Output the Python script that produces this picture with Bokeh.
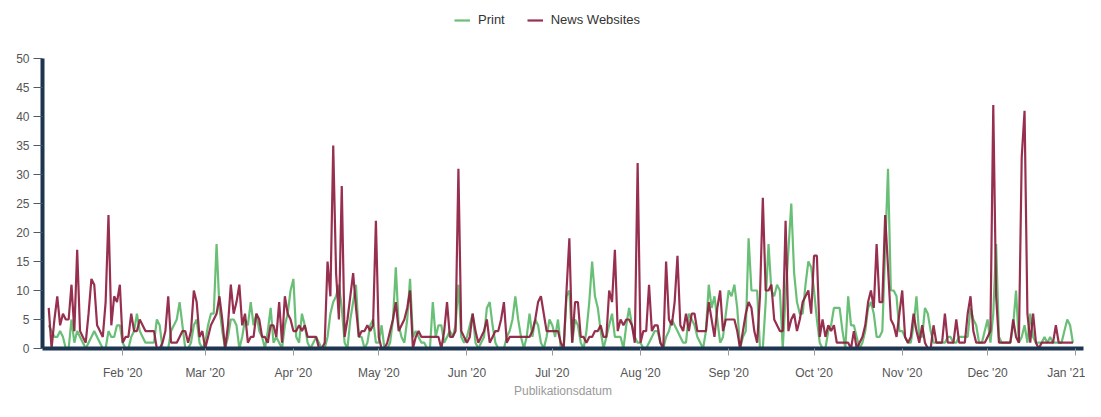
import pandas as pd
from bokeh.plotting import figure
from bokeh.models import Range1d, FixedTicker, DatetimeTickFormatter, Legend, LegendItem, ColumnDataSource
from bokeh.embed import file_html
from bokeh.resources import INLINE

start_date = "2020-01-06"

news_websites = [
    7, 0, 5, 9, 4, 6, 5, 5, 11, 3,
    17, 3, 2, 1, 6, 12, 11, 4, 3, 2,
    8, 23, 4, 9, 8, 11, 1, 2, 2, 6,
    3, 3, 5, 4, 3, 3,
    3, 3, 0, 0,
    1, 3, 9, 1, 1, 1, 2, 3, 3, 1,
    3, 10, 8, 2, 3, 0, 2, 4, 5, 6,
    9, 5, 0, 4, 11, 6, 8, 11, 4, 6,
    1, 2, 2,
    6, 5, 2, 2, 1, 4, 4,
    2, 8, 1, 9, 6, 5, 3, 3, 4, 3,
    4, 2, 2, 2, 2, 0, 0, 1, 15, 9,
    35, 13, 5, 28, 2, 5, 9, 13, 7, 2,
    3, 3, 4, 3, 4, 22, 2, 0, 0, 1,
    3, 5, 8, 3, 4, 5, 7, 10, 0, 2,
    3, 2, 2, 2, 2, 2, 2, 2, 0, 3,
    8, 2, 2, 3, 31, 3, 2,
    1, 2, 6, 3, 1, 2, 3, 5, 1, 2,
    3, 3, 5, 8, 1, 2, 2, 2, 2, 2,
    2, 2, 2, 3, 5, 8, 9, 6, 3, 3,
    3, 3, 3, 1, 0,
    10, 19, 1, 8, 8, 2, 2, 1, 2, 2,
    3, 3, 4, 2, 2, 10, 8, 17, 3, 5,
    4, 5, 5, 4, 1, 32, 1, 3, 3, 11,
    3, 4, 4, 1, 0, 15, 5,
    4, 8, 16, 4, 3, 6, 3, 6, 6, 3,
    3, 3, 3, 8, 5, 2, 7, 10, 3, 5,
    5, 5, 5, 3, 0, 3, 6, 8, 7, 3,
    1, 9, 26, 10, 10, 11, 5,
    4, 3, 3, 22, 3, 5, 6, 3, 5, 8,
    9, 10, 6, 16, 16, 2, 5, 2, 4, 3,
    4, 1, 1, 1, 1, 1, 0, 3, 0, 1,
    2, 4, 8, 10, 7, 18, 8,
    8, 23, 14, 5, 4, 2, 6, 10, 2, 1,
    2, 6, 3, 1, 4, 1, 0, 0, 4, 1,
    1, 1, 6, 1, 1, 1, 5, 1, 1, 1,
    6, 9, 3, 1, 1, 1, 1,
    2, 3, 42, 9, 1, 1, 1, 1, 1, 5,
    2, 1, 33, 41, 6, 1, 6, 1, 0, 1,
    1, 1, 1, 1, 4, 1, 1, 1, 1, 1, 1,
]

print_media = [
    4, 3, 2, 2, 3, 2, 0, 0, 5, 1,
    3, 2, 1, 0, 1, 2, 3, 2, 1, 0,
    0, 3, 2, 2, 4, 4, 1, 0, 0, 2,
    3, 6, 3, 2, 1, 1,
    1, 1, 5, 4,
    0, 0, 0, 3, 4, 5, 8, 4, 0, 0,
    1, 4, 5, 1, 0, 1, 4, 6, 6, 18,
    7, 3, 0, 2, 5, 5, 4, 0, 2, 5,
    4, 8, 4,
    6, 3, 2, 0, 3, 7, 1,
    2, 1, 0, 4, 6, 10, 12, 2, 1, 6,
    4, 1, 0, 1, 2, 1, 0, 0, 2, 6,
    8, 9, 11, 7, 1, 0, 5, 8, 11, 2,
    2, 0, 1, 4, 5, 1, 1, 4, 0, 0,
    1, 5, 14, 4, 2, 1, 5, 12, 2, 3,
    2, 1, 1, 0, 0, 8, 2, 4, 4, 1,
    2, 3, 2, 4, 11, 2, 1,
    2, 4, 6, 1, 0, 1, 2, 7, 8, 4,
    1, 0, 0, 0, 2, 3, 5, 9, 5, 2,
    0, 2, 6, 2, 5, 4, 1, 0, 2, 5,
    4, 2, 5, 0, 0,
    9, 10, 1, 5, 4, 1, 0, 3, 8, 15,
    9, 7, 3, 0, 2, 4, 6, 2, 2, 2,
    0, 4, 7, 4, 2, 1, 1, 0, 0, 1,
    2, 3, 3, 1, 0, 2, 3,
    5, 4, 3, 2, 1, 1, 6, 5, 4, 2,
    1, 0, 3, 11, 7, 9, 5, 1, 2, 6,
    10, 9, 11, 7, 0, 2, 3, 19, 10, 10,
    10, 0, 0, 8, 18, 10, 9,
    11, 10, 0, 9, 17, 25, 13, 8, 6, 6,
    11, 15, 14, 10, 5, 1, 0, 0, 3, 4,
    7, 7, 7, 3, 0, 9, 4, 4, 2, 0,
    1, 3, 7, 8, 6, 2, 2,
    3, 17, 31, 10, 10, 9, 3, 3, 2, 1,
    1, 4, 9, 2, 2, 7, 6, 3, 1, 1,
    1, 1, 1, 2, 2, 1, 1, 2, 2, 2,
    2, 7, 5, 4, 1, 1, 3,
    5, 1, 6, 18, 2, 1, 1, 1, 1, 4,
    10, 1, 2, 4, 1, 6, 2, 1, 1, 1,
    2, 1, 2, 1, 1, 1, 1, 3, 5, 4, 1,
]

month_ticks = ["2020-02-01", "2020-03-01", "2020-04-01", "2020-05-01", "2020-06-01",
               "2020-07-01", "2020-08-01", "2020-09-01", "2020-10-01", "2020-11-01",
               "2020-12-01", "2021-01-01"]
y_ticks = [0, 5, 10, 15, 20, 25, 30, 35, 40, 45, 50]

n = min(len(news_websites), len(print_media))
dates = pd.date_range(start_date, periods=n, freq="D")
src = ColumnDataSource(dict(date=dates, print_media=print_media[:n], news=news_websites[:n]))

GREEN = "#5ab868"
RED = "#8c1a3c"
AXIS = "#1d3550"
FONT = "Liberation Sans"

W, H = 1085, 401
BL, BR, BT, BB = 42, 2, 0, 53
frame_h = H - BT - BB
px_per_unit = (frame_h - 58) / 50.0

t0 = pd.Timestamp("2020-01-01")
day_ms = 86400000.0
x_start = t0.value / 1e6 + 2.81 * day_ms
x_end = x_start + (W - BL - BR) / 2.845 * day_ms

p = figure(width=W, height=H, x_axis_type="datetime", output_backend="svg",
           toolbar_location=None, title=None,
           x_range=Range1d(x_start, x_end), y_range=Range1d(0, frame_h / px_per_unit),
           min_border_left=BL, min_border_right=BR, min_border_top=BT, min_border_bottom=BB)
p.outline_line_color = None
p.xgrid.visible = False
p.ygrid.visible = False
p.background_fill_color = "white"
p.border_fill_color = "white"

r_print = p.line("date", "print_media", source=src, line_color=GREEN, line_width=2.2, line_alpha=0.9)
r_news = p.line("date", "news", source=src, line_color=RED, line_width=2.2, line_alpha=0.9)

# y axis
ya = p.yaxis[0]
ya.ticker = FixedTicker(ticks=y_ticks)
ya.bounds = (0, 50)
ya.axis_line_color = AXIS
ya.axis_line_width = 4
ya.major_tick_line_color = "#4b5b6b"
ya.major_tick_out = 9
ya.major_tick_in = 0
ya.minor_tick_line_color = None
ya.major_label_text_color = "#555555"
ya.major_label_text_font = FONT
ya.major_label_text_font_size = "12px"
ya.major_label_standoff = 4

# x axis
xa = p.xaxis[0]
xa.ticker = FixedTicker(ticks=[pd.Timestamp(t).value / 1e6 for t in month_ticks])
xa.formatter = DatetimeTickFormatter(days="%b '%y", months="%b '%y", years="%b '%y")
xa.axis_line_color = AXIS
xa.axis_line_width = 4
xa.major_tick_line_color = "#999999"
xa.major_tick_out = 7
xa.major_tick_in = 0
xa.minor_tick_line_color = None
xa.major_label_text_color = "#555555"
xa.major_label_text_font = FONT
xa.major_label_text_font_size = "12px"
xa.major_label_standoff = 10
xa.axis_label = "Publikationsdatum"
xa.axis_label_text_color = "#999999"
xa.axis_label_text_font = FONT
xa.axis_label_text_font_style = "normal"
xa.axis_label_text_font_size = "12px"
xa.axis_label_standoff = 1

legend = Legend(items=[LegendItem(label="Print", renderers=[r_print]),
                       LegendItem(label="News Websites", renderers=[r_news])],
                location=(412, frame_h - 27), orientation="horizontal", margin=0, padding=4,
                spacing=22, glyph_width=16, glyph_height=14, label_height=14,
                label_standoff=8, border_line_color=None, background_fill_alpha=0,
                label_text_font=FONT, label_text_font_size="13px", label_text_color="#333333")
p.add_layout(legend, "center")

open("out.html", "w").write(file_html(p, INLINE))
